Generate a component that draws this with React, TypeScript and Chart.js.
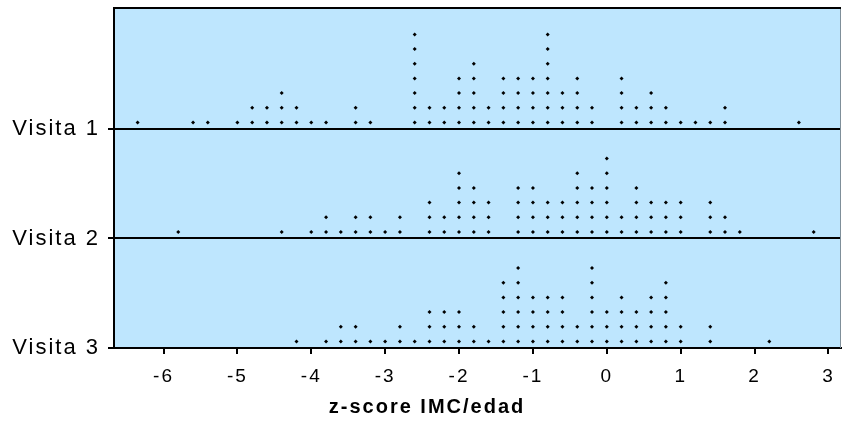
import React, { useEffect, useRef } from "react";
import { Chart, registerables } from "chart.js";

Chart.register(...registerables);

// Visit labels (top to bottom)
const visitLabels = ["Visita 1", "Visita 2", "Visita 3"];
const visitBase = [2, 1, 0];

// Visita 1: z-score bins and number of children per bin
const visita1Values = [-6.35, -5.6, -5.4, -5.0, -4.8, -4.6, -4.4, -4.2, -4.0, -3.8, -3.4, -3.2, -2.6, -2.4, -2.2, -2.0, -1.8, -1.6, -1.4, -1.2, -1.0, -0.8, -0.6, -0.4, -0.2, 0.2, 0.4, 0.6, 0.8, 1.0, 1.2, 1.4, 1.6, 2.6];
const visita1Counts = [1, 1, 1, 1, 2, 2, 3, 2, 1, 1, 2, 1, 7, 2, 2, 4, 5, 2, 4, 4, 4, 7, 3, 4, 2, 4, 2, 3, 2, 1, 1, 1, 2, 1];

// Visita 2
const visita2Values = [-5.8, -4.4, -4.0, -3.8, -3.6, -3.4, -3.2, -3.0, -2.8, -2.4, -2.2, -2.0, -1.8, -1.6, -1.2, -1.0, -0.8, -0.6, -0.4, -0.2, 0.0, 0.2, 0.4, 0.6, 0.8, 1.0, 1.4, 1.6, 1.8, 2.8];
const visita2Counts = [1, 1, 1, 2, 1, 2, 2, 1, 2, 3, 2, 5, 4, 3, 4, 4, 3, 3, 5, 4, 6, 2, 4, 3, 3, 3, 3, 2, 1, 1];

// Visita 3
const visita3Values = [-4.2, -3.8, -3.6, -3.4, -3.2, -3.0, -2.8, -2.6, -2.4, -2.2, -2.0, -1.8, -1.6, -1.4, -1.2, -1.0, -0.8, -0.6, -0.4, -0.2, 0.0, 0.2, 0.4, 0.6, 0.8, 1.0, 1.4, 2.2];
const visita3Counts = [1, 1, 2, 2, 1, 1, 2, 1, 3, 3, 3, 2, 1, 5, 6, 4, 4, 4, 2, 6, 3, 4, 3, 4, 5, 2, 2, 1];

const xTickValues = [-6, -5, -4, -3, -2, -1, 0, 1, 2, 3];
const xTitle = "z-score IMC/edad";

const X_MIN = -6.67;
const X_MAX = 3.17;
const Y_MAX = 3.105;
const DOT_OFFSET = 0.06;
const DOT_STEP = 0.134;

function stackPoints(values: number[], counts: number[], base: number) {
  const pts: { x: number; y: number }[] = [];
  values.forEach((v, i) => {
    for (let k = 0; k < counts[i]; k++) {
      pts.push({ x: v, y: base + DOT_OFFSET + k * DOT_STEP });
    }
  });
  return pts;
}

const FONT = "'Liberation Sans', Arial, sans-serif";

export default function App() {
  const ref = useRef<HTMLCanvasElement | null>(null);

  useEffect(() => {
    document.body.style.margin = "0";
    if (!ref.current) return;

    const series = [
      stackPoints(visita1Values, visita1Counts, visitBase[0]),
      stackPoints(visita2Values, visita2Counts, visitBase[1]),
      stackPoints(visita3Values, visita3Counts, visitBase[2]),
    ];

    const framePlugin = {
      id: "frame",
      beforeDraw(chart: any) {
        const { ctx, chartArea } = chart;
        ctx.save();
        ctx.fillStyle = "#BEE6FE";
        ctx.fillRect(chartArea.left, chartArea.top, chartArea.right - chartArea.left, chartArea.bottom - chartArea.top);
        ctx.restore();
        ctx.letterSpacing = "2px";
      },
      afterDraw(chart: any) {
        const { ctx, chartArea } = chart;
        ctx.save();
        ctx.strokeStyle = "#7f8f99";
        ctx.lineWidth = 1;
        ctx.beginPath();
        ctx.moveTo(chartArea.right - 0.5, chartArea.top);
        ctx.lineTo(chartArea.right - 0.5, chartArea.bottom);
        ctx.stroke();
        ctx.strokeStyle = "#000";
        ctx.lineWidth = 2;
        ctx.beginPath();
        ctx.moveTo(chartArea.left - 1, chartArea.top);
        ctx.lineTo(chartArea.right, chartArea.top);
        ctx.stroke();
        ctx.restore();
      },
    };

    const chart = new Chart(ref.current, {
      type: "scatter",
      data: {
        datasets: series.map((pts, i) => ({
          label: visitLabels[i],
          data: pts,
          pointStyle: "rectRot",
          pointRadius: 2,
          pointBackgroundColor: "#000",
          pointBorderWidth: 0,
          showLine: false,
        })),
      },
      options: {
        animation: false,
        responsive: false,
        layout: { padding: { top: 8, right: 1, left: 10, bottom: 0 } },
        plugins: {
          legend: { display: false },
          tooltip: { enabled: false },
          title: {
            display: true,
            position: "bottom",
            text: xTitle,
            color: "#000",
            font: { family: FONT, size: 20, weight: "bold", lineHeight: 1.2 },
            padding: { top: 0, bottom: 5 },
          },
        },
        scales: {
          x: {
            type: "linear",
            min: X_MIN,
            max: X_MAX,
            afterBuildTicks: (scale: any) => {
              scale.ticks = xTickValues.map((v) => ({ value: v }));
            },
            afterFit: (scale: any) => {
              scale.height = 47;
              scale.paddingLeft = 0;
              scale.paddingRight = 0;
            },
            grid: { drawOnChartArea: false, drawTicks: true, tickLength: 6, color: "#000", lineWidth: 2 },
            border: { display: true, color: "#000", width: 2 },
            ticks: {
              color: "#000",
              padding: 11,
              maxRotation: 0,
              autoSkip: false,
              font: { family: FONT, size: 19 },
              callback: (v: any) => String(v),
            },
          },
          y: {
            type: "linear",
            min: 0,
            max: Y_MAX,
            afterBuildTicks: (scale: any) => {
              scale.ticks = visitBase.map((v) => ({ value: v }));
            },
            afterFit: (scale: any) => {
              scale.width = 104;
              scale.paddingTop = 0;
              scale.paddingBottom = 0;
            },
            grid: { drawOnChartArea: true, drawTicks: true, tickLength: 6, color: "#000", lineWidth: 2 },
            border: { display: true, color: "#000", width: 2 },
            ticks: {
              color: "#000",
              padding: 8,
              autoSkip: false,
              font: { family: FONT, size: 22 },
              callback: (v: any) => {
                const i = visitBase.indexOf(Number(v));
                return i >= 0 ? visitLabels[i] : "";
              },
            },
          },
        },
      },
      plugins: [framePlugin],
    });

    return () => chart.destroy();
  }, []);

  return (
    <div style={{ width: 845, height: 424 }}>
      <canvas ref={ref} width={845} height={424} />
    </div>
  );
}
